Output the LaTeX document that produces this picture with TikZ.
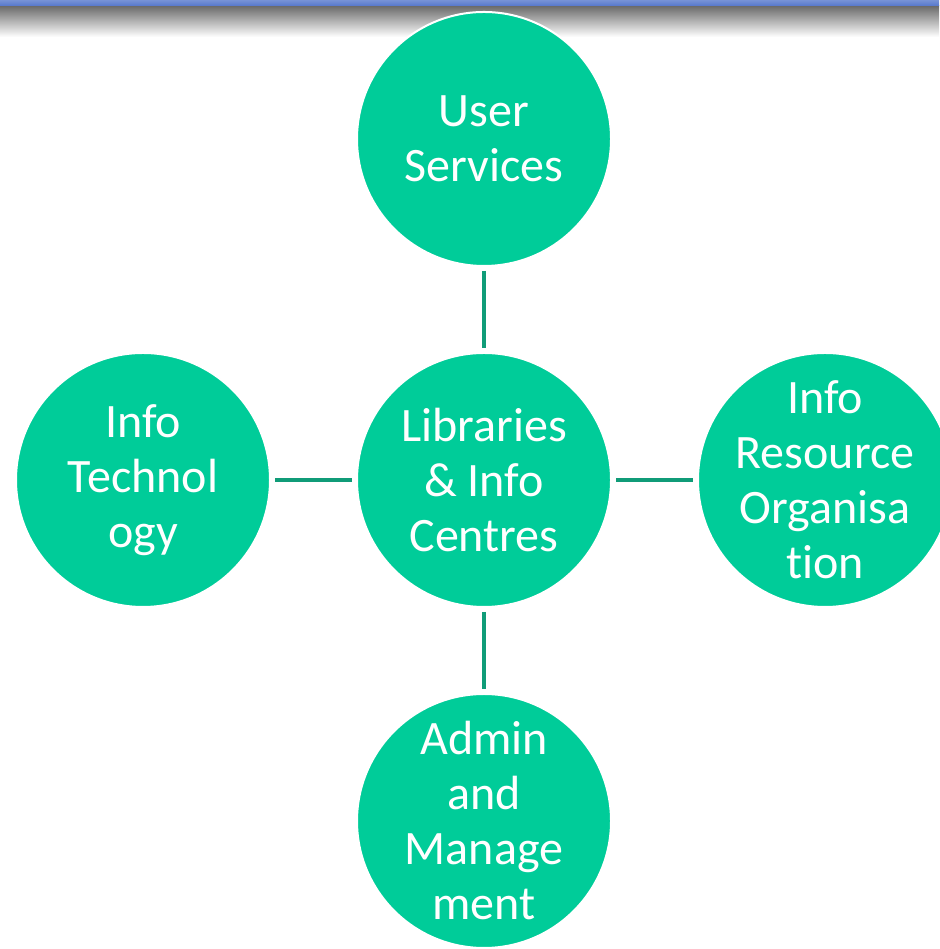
\documentclass[tikz,border=0pt]{standalone}
\usepackage{fontspec}
\setmainfont{Carlito}[Ligatures=NoCommon]
\definecolor{circfill}{HTML}{00CC99}
\definecolor{linkcol}{HTML}{109C78}
\definecolor{barblue}{HTML}{5577CC}
\tikzset{
  topic/.style={circle, fill=circfill, draw=white, line width=2pt, minimum size=254pt, inner sep=0pt, outer sep=1pt},
  topictext/.style={text=white, align=center, font=\fontsize{48}{55}\selectfont, inner sep=0pt},
  link/.style={draw=linkcol, line width=4pt, shorten <=4pt, shorten >=4pt}
}
\begin{document}
\begin{tikzpicture}[x=1pt,y=1pt]
\useasboundingbox (0,0) rectangle (939,949);
\fill[white] (0,0) rectangle (939,949);
% top shadow and bar
\shade[top color=black!58, bottom color=white] (0,943) rectangle (939,912);
\shade[top color=barblue!80!white, bottom color=barblue] (0,949) rectangle (939,943);
% nodes
\node[topic] (hub) at (484,469) {};
\node[topic] (user) at (484,810) {};
\node[topic] (tech) at (143,469) {};
\node[topic] (org) at (825,469) {};
\node[topic] (admin) at (484,128) {};
\node[topictext] (hubt) at (hub.center) {Libraries\\\& Info\\Centres};
\node[topictext] (usert) at (user.center) {User\\Services};
\node[topictext] (techt) at (tech.center) {Info\\Technol\\ogy};
\node[topictext] (orgt) at (org.center) {Info\\Resource\\Organisa\\tion};
\node[topictext] (admint) at (admin.center) {Admin\\and\\Manage\\ment};
% connectors
\draw[link] (user) -- (hub);
\draw[link] (hub) -- (admin);
\draw[link] (tech) -- (hub);
\draw[link] (hub) -- (org);
\end{tikzpicture}
\end{document}
